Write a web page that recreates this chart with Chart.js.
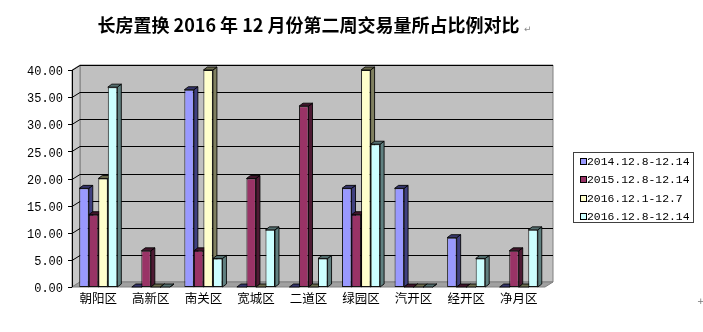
<!DOCTYPE html>
<html><head><meta charset="utf-8">
<script src="https://cdn.jsdelivr.net/npm/chart.js@4.4.0/dist/chart.umd.min.js"></script>
<style>
html,body{margin:0;padding:0;background:#fff;}
#wrap{position:relative;width:703px;height:332px;overflow:hidden;}
canvas{position:absolute;left:0;top:0;}
#title{position:absolute;left:0;top:11px;width:617px;text-align:center;font:bold 18px "Noto Sans CJK SC";color:#000;white-space:nowrap;line-height:26px;}
#pm1{position:absolute;left:524px;top:24px;font:9px "DejaVu Sans";color:#888;}
#pm2{position:absolute;left:697px;top:296px;font:9px "DejaVu Sans";color:#777;}
</style></head><body>
<div id="wrap">
<canvas id="c" width="703" height="332"></canvas>
<div id="title">长房置换 2016 年 12 月份第二周交易量所占比例对比</div>
<span id="pm1">↵</span><span id="pm2">+</span>
</div>
<script>
const categories = ['朝阳区','高新区','南关区','宽城区','二道区','绿园区','汽开区','经开区','净月区'];
const seriesLabels = ['2014.12.8-12.14','2015.12.8-12.14','2016.12.1-12.7','2016.12.8-12.14'];
const s2014w2 = [18.18, 0, 36.36, 0, 0, 18.18, 18.18, 9.09, 0];
const s2015w2 = [13.33, 6.67, 6.67, 20.00, 33.33, 13.33, 0, 0, 6.67];
const s2016w1 = [20.00, 0, 40.00, 0, 0, 40.00, 0, 0, 0];
const s2016w2 = [36.84, 0, 5.26, 10.53, 5.26, 26.32, 0, 5.26, 10.53];
const yTicks = [0, 5, 10, 15, 20, 25, 30, 35, 40];

const frontColors = ['#9999FF','#993366','#FFFFCC','#CCFFFF'];
const sideColors  = ['#404080','#4D1A33','#808060','#608080'];
const topColors   = ['#35356B','#40152B','#6B6B4D','#557070'];

function poly(ctx, pts, fill, stroke){
  ctx.beginPath();
  ctx.moveTo(pts[0][0], pts[0][1]);
  for (let i=1;i<pts.length;i++) ctx.lineTo(pts[i][0], pts[i][1]);
  ctx.closePath();
  if (fill){ctx.fillStyle=fill; ctx.fill();}
  if (stroke){ctx.strokeStyle=stroke; ctx.lineWidth=1; ctx.stroke();}
}

const WX=8, WY=-5, BX=4, BY=-3;

const threeD = {
  id:'threeD',
  beforeDatasetsDraw(chart){
    const ctx=chart.ctx, a=chart.chartArea, y=chart.scales.y;
    ctx.save();
    poly(ctx, [[a.left+WX,a.top+WY],[a.right+WX,a.top+WY],[a.right+WX,a.bottom+WY],[a.left+WX,a.bottom+WY]], '#C0C0C0', '#808080');
    poly(ctx, [[a.left,a.top],[a.left+WX,a.top+WY],[a.left+WX,a.bottom+WY],[a.left,a.bottom]], '#C8C8C8', '#808080');
    poly(ctx, [[a.left,a.bottom],[a.left+WX,a.bottom+WY],[a.right+WX,a.bottom+WY],[a.right,a.bottom]], '#A0A0A0', '#808080');
    ctx.strokeStyle='#000'; ctx.lineWidth=1;
    yTicks.forEach(v=>{
      const py = Math.round(y.getPixelForValue(v));
      if (v>0){
        ctx.beginPath();
        ctx.moveTo(a.left+WX, py+WY+0.5); ctx.lineTo(a.right+WX, py+WY+0.5);
        ctx.stroke();
        ctx.beginPath();
        ctx.moveTo(a.left, py+0.5); ctx.lineTo(a.left+WX, py+WY+0.5);
        ctx.stroke();
      }
      ctx.beginPath();
      ctx.moveTo(a.left-4, py+0.5); ctx.lineTo(a.left, py+0.5);
      ctx.stroke();
    });
    ctx.beginPath();
    ctx.moveTo(a.left+0.5, a.top); ctx.lineTo(a.left+0.5, a.bottom);
    ctx.stroke();
    const n = chart.data.labels.length;
    for (let j=0;j<n;j++){
      chart.data.datasets.forEach((ds,k)=>{
        const el = chart.getDatasetMeta(k).data[j];
        const p = el.getProps(['x','y','base','width'], true);
        const l = p.x - p.width/2, r = p.x + p.width/2, t = Math.min(p.y,p.base), b = Math.max(p.y,p.base);
        poly(ctx, [[r,t],[r+BX,t+BY],[r+BX,b+BY],[r,b]], sideColors[k], 'rgba(0,0,0,0.85)');
        poly(ctx, [[l,t],[r,t],[r+BX,t+BY],[l+BX,t+BY]], topColors[k], 'rgba(0,0,0,0.85)');
      });
    }
    ctx.restore();
  },
  afterDraw(chart){
    const ctx=chart.ctx;
    ctx.save();
    ctx.strokeStyle='#404040'; ctx.lineWidth=1;
    ctx.strokeRect(573.5, 152.5, 120, 70);
    ctx.font='11.4px "Liberation Mono"';
    ctx.textBaseline='middle'; ctx.textAlign='left';
    chart.data.datasets.forEach((ds,k)=>{
      const cy = 161.5 + k*18.3;
      ctx.fillStyle = ds.backgroundColor;
      ctx.fillRect(580.5, Math.round(cy-3.5)+0.5, 6, 6);
      ctx.strokeStyle='#000';
      ctx.strokeRect(580.5, Math.round(cy-3.5)+0.5, 6, 6);
      ctx.fillStyle='#000';
      ctx.fillText(ds.label, 587, cy+0.5);
    });
    ctx.restore();
  }
};

const seriesData = [s2014w2, s2015w2, s2016w1, s2016w2];
new Chart(document.getElementById('c'), {
  type:'bar',
  data:{
    labels:categories,
    datasets: seriesLabels.map((lab,k)=>({
      label:lab,
      data:seriesData[k],
      backgroundColor:frontColors[k],
      borderColor:'rgba(0,0,0,0.85)',
      borderWidth:1,
      borderSkipped:false,
      categoryPercentage:0.725,
      barPercentage:1.0
    }))
  },
  options:{
    responsive:false, animation:false, devicePixelRatio:1,
    layout:{padding:{top:70,left:0,right:158,bottom:0}},
    plugins:{legend:{display:false},tooltip:{enabled:false},title:{display:false}},
    scales:{
      x:{
        grid:{display:false,drawTicks:false}, border:{display:false},
        ticks:{font:{family:'Noto Sans CJK SC',size:12.5},color:'#000',padding:4,maxRotation:0,autoSkip:false},
        afterFit(s){s.height=45;}
      },
      y:{
        min:0,max:40,
        grid:{display:false,drawTicks:false}, border:{display:false},
        ticks:{stepSize:5, callback:v=>Number(v).toFixed(2), font:{family:'Liberation Mono',size:12}, color:'#000', padding:9, labelOffset:2},
        afterFit(s){s.width=72;}
      }
    }
  },
  plugins:[threeD]
});
</script>
</body></html>
